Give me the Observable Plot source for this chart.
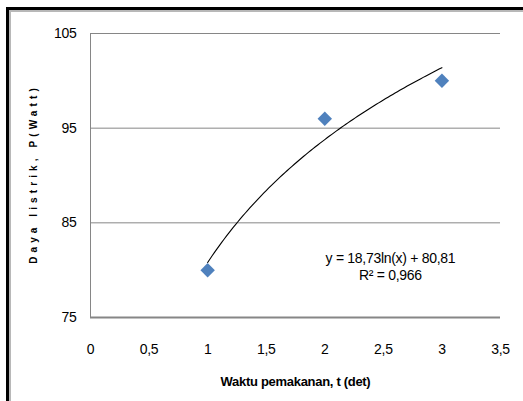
<!DOCTYPE html>
<html>
<head>
<meta charset="utf-8">
<script src="https://cdn.jsdelivr.net/npm/d3@7"></script>
<script src="https://cdn.jsdelivr.net/npm/@observablehq/plot@0.6"></script>
<style>
  html, body { margin: 0; padding: 0; background: #fff; }
  #wrap { position: relative; width: 523px; height: 401px; overflow: hidden; }
  .b1 { position: absolute; background: #000; }
  .b2 { position: absolute; background: #b8b8b8; }
  #chart { position: absolute; left: 0; top: 0; }
  #ylab { position: absolute; left: 33px; top: 174px; transform: translate(-50%, -50%) rotate(-90deg);
          font: bold 10px "Liberation Sans", Arial, sans-serif; letter-spacing: 4.1px; white-space: pre; color: #000; }
</style>
</head>
<body>
<div id="wrap">
  <div class="b1" style="left:6px;top:7px;width:517px;height:3px"></div>
  <div class="b1" style="left:6px;top:7px;width:3px;height:394px"></div>
  <div class="b2" style="left:9px;top:10px;width:514px;height:2px"></div>
  <div class="b2" style="left:9px;top:10px;width:2px;height:391px"></div>
  <div id="chart"></div>
  <div id="ylab">Daya listrik, P(Watt)</div>
</div>
<script>
const times = [1, 2, 3];
const power = [80, 96, 100];
const xTicks = [0, 0.5, 1, 1.5, 2, 2.5, 3, 3.5];
const yTicks = [75, 85, 95, 105];
const eqLines = ["y = 18,73ln(x) + 80,81", "R² = 0,966"];
const xLabel = "Waktu pemakanan, t (det)";

const pts = times.map((t, i) => ({t, p: power[i]}));

// logarithmic least-squares fit from the data (as the spreadsheet trendline)
const lx = times.map(Math.log);
const mx = d3.mean(lx), my = d3.mean(power);
const b = d3.sum(lx, (v, i) => (v - mx) * (power[i] - my)) / d3.sum(lx, v => (v - mx) ** 2);
const a = my - b * mx;
const t0 = d3.min(times), t1 = d3.max(times);
const fit = d3.range(0, 101).map(k => { const t = t0 + (t1 - t0) * k / 100; return {t, p: a + b * Math.log(t)}; });

const font = '"Liberation Sans", Arial, sans-serif';
const fmt = d => String(d).replace(".", ",");

const chart = Plot.plot({
  width: 523,
  height: 401,
  marginLeft: 90,
  marginTop: 33,
  marginRight: 23,
  marginBottom: 84,
  style: {fontFamily: font, fontSize: "14px", color: "#000", background: "transparent", letterSpacing: "-0.3px"},
  x: {domain: [0, 3.5]},
  y: {domain: [75, 105]},
  marks: [
    Plot.ruleY(yTicks.filter(v => v > 75), {stroke: "#868686", strokeWidth: 1}),
    Plot.ruleX([0], {y1: 75, y2: 105, stroke: "#868686", strokeWidth: 1}),
    Plot.ruleY([75], {stroke: "#868686", strokeWidth: 2}),
    Plot.axisY({ticks: yTicks, tickSize: 0, tickPadding: 14, label: null, fontSize: 14}),
    Plot.axisX({ticks: xTicks, tickSize: 0, tickPadding: 27, tickFormat: fmt, label: null, fontSize: 14}),
    Plot.line(fit, {x: "t", y: "p", stroke: "#000", strokeWidth: 1.1}),
    Plot.dot(pts, {x: "t", y: "p", symbol: "diamond2", r: 6.5, fill: "#4F81BD", stroke: "#4F81BD", strokeWidth: 0}),
    Plot.text([eqLines.join("\n")], {x: 2.56, y: 80.45, text: d => d, fontSize: 14, lineHeight: 1.2, fill: "#000", textAnchor: "middle"}),
    Plot.text([xLabel], {frameAnchor: "bottom", dy: 68, text: d => d, fontSize: 13, fontWeight: "bold", fill: "#000"})
  ]
});
document.getElementById("chart").appendChild(chart);
</script>
</body>
</html>
